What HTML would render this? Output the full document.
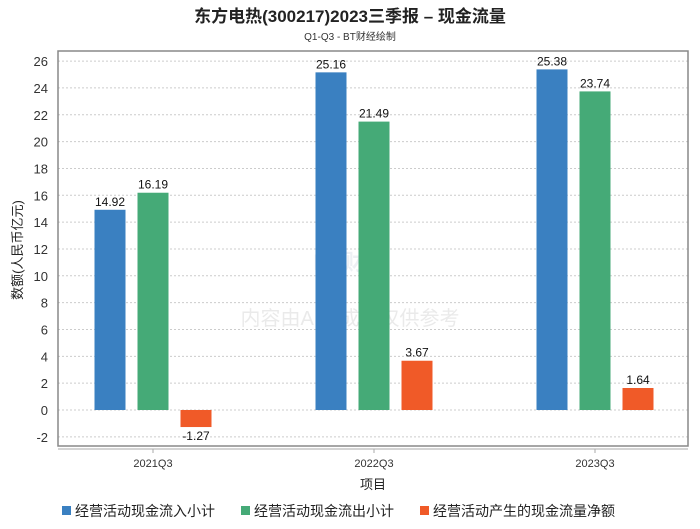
<!DOCTYPE html>
<html><head><meta charset="utf-8"><style>
body{margin:0;background:#fff;}
svg text{font-family:"Liberation Sans","Noto Sans CJK SC",sans-serif;}
</style></head><body>
<svg width="700" height="524" xmlns="http://www.w3.org/2000/svg">
<text x="350" y="22" text-anchor="middle" font-size="17" font-weight="bold" fill="#222">东方电热(300217)2023三季报 – 现金流量</text>
<text x="350" y="40" text-anchor="middle" font-size="10" fill="#333">Q1-Q3 - BT财经绘制</text>
<g id="grid"></g>
<rect x="58" y="51" width="630" height="395" fill="none" stroke="#888" stroke-width="1.5"/>
<line x1="58" y1="449" x2="688" y2="449" stroke="#aaa"/>
<text x="350" y="270" text-anchor="middle" font-size="22" fill="#dde3ea" opacity="0.5" font-weight="bold">BT财经</text>
<text x="350" y="325" text-anchor="middle" font-size="20" fill="#ddd" opacity="0.6">内容由AI生成，仅供参考</text>
<g id="bars"></g>
<text x="22" y="250" text-anchor="middle" font-size="13" fill="#222" transform="rotate(-90 22 250)">数额(人民币亿元)</text>
<text x="373" y="489" text-anchor="middle" font-size="13" fill="#222">项目</text>
<g id="legend"></g>
</svg>
<script>
const categories=["2021Q3","2022Q3","2023Q3"];
const inflow=[14.92,25.16,25.38];
const outflow=[16.19,21.49,23.74];
const net=[-1.27,3.67,1.64];
const yTicks=[-2,0,2,4,6,8,10,12,14,16,18,20,22,24,26];
const seriesNames=["经营活动现金流入小计","经营活动现金流出小计","经营活动产生的现金流量净额"];
const colors=["#3a80c1","#45aa77","#f05a28"];
const NS="http://www.w3.org/2000/svg";
function y(v){return 410-v*13.42;}
function xc(i){return 153+i*221;}
function mk(t,a,p){const e=document.createElementNS(NS,t);for(const k in a)e.setAttribute(k,a[k]);p.appendChild(e);return e;}
const g=document.getElementById('grid');
yTicks.forEach(v=>{
 const l=mk('line',{x1:58,x2:688,y1:y(v),y2:y(v),stroke:'#ccc','stroke-dasharray':'2,2'},g);
 
 
 const t=mk('text',{x:48,y:y(v)+5,'text-anchor':'end','font-size':13,fill:'#333'},g);
 t.textContent=v;
 
 
});
const b=document.getElementById('bars');
const series=[inflow,outflow,net];
categories.forEach((c,i)=>{
 const tk=mk('line',{x1:xc(i),x2:xc(i),y1:449,y2:453,stroke:'#aaa'},b);
 
 
 const t=mk('text',{x:xc(i),y:467,'text-anchor':'middle','font-size':11,fill:'#333'},b);
 t.textContent=c;
 
 
 series.forEach((s,j)=>{
  const v=s[i],cx=xc(i)+(j-1)*43;
  const r=mk('rect',{x:cx-15.5,width:31,y:Math.min(y(v),y(0)),height:Math.abs(y(v)-y(0)),fill:colors[j]},b);
  
  
  const lt=mk('text',{x:cx,y:v>=0?y(v)-4:y(v)+13,'text-anchor':'middle','font-size':12,fill:'#111'},b);
  lt.textContent=v.toFixed(2);
  
  
 });
});
const lg=document.getElementById('legend');
const lx=[62,241,420];
seriesNames.forEach((n,j)=>{
 const r=mk('rect',{x:lx[j],y:506,width:9,height:9,fill:colors[j]},lg);
 
 
 const t=mk('text',{x:lx[j]+13,y:516,'font-size':14,fill:'#222'},lg);
 t.textContent=n;
 
 
});
</script>
</body></html>
